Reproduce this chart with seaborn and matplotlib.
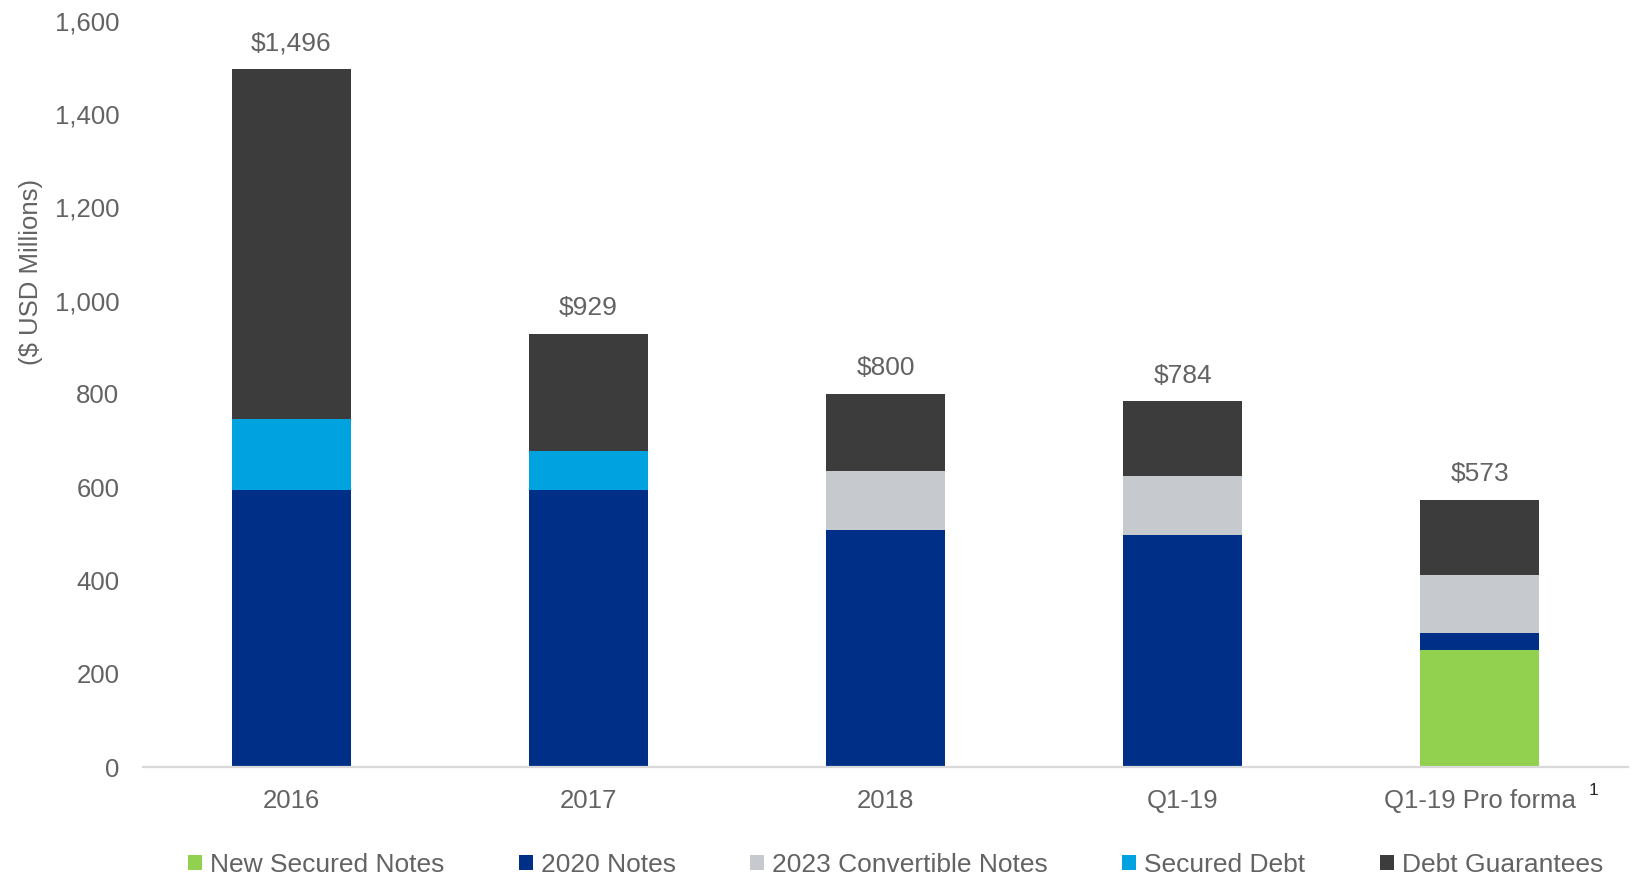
import matplotlib
matplotlib.use("Agg")
import matplotlib.pyplot as plt
import matplotlib.transforms as mtransforms
from matplotlib.patches import Patch
from matplotlib.ticker import FuncFormatter
import numpy as np
import pandas as pd
import seaborn as sns

# Debt components by period ($ USD millions)
categories = ["2016", "2017", "2018", "Q1-19", "Q1-19 Pro forma"]
new_secured_notes = [0, 0, 0, 0, 250]
notes_2020 = [593, 593, 509, 498, 37]
convertible_2023 = [0, 0, 125, 125, 125]
secured_debt = [154, 84, 0, 0, 0]
debt_guarantees = [749, 252, 166, 161, 161]

series_names = ["New Secured Notes", "2020 Notes", "2023 Convertible Notes",
                "Secured Debt", "Debt Guarantees"]
series_colors = ["#92d050", "#002f87", "#c6cace", "#00a3e0", "#3c3c3c"]

TEXT = "#636363"

sns.set_theme(style="white")
plt.rcParams["font.family"] = ["Liberation Sans", "DejaVu Sans"]

layers = np.array([new_secured_notes, notes_2020, convertible_2023,
                   secured_debt, debt_guarantees], dtype=float)
cumulative = np.cumsum(layers, axis=0)
totals = cumulative[-1]

fig = plt.figure(figsize=(16.4, 8.75), dpi=100)
ax = fig.add_axes([0.0872, 0.1234, 0.9055, 0.8529])

# Stacked bars: draw cumulative heights from the top layer down
for i in range(len(series_names) - 1, -1, -1):
    df = pd.DataFrame({"period": categories, "value": cumulative[i]})
    sns.barplot(data=df, x="period", y="value", order=categories,
                color=series_colors[i], saturation=1, width=0.4,
                linewidth=0, ax=ax)

# Total labels above each bar
for xi, tot in enumerate(totals):
    ax.annotate(f"${tot:,.0f}", xy=(xi, tot), xytext=(0, 18.5),
                textcoords="offset points", ha="center", va="center",
                fontsize=19, color=TEXT)

ax.set_xlim(-0.5, 4.5)
ax.set_ylim(0, 1600)
ax.set_yticks(np.arange(0, 1601, 200))
ax.yaxis.set_major_formatter(FuncFormatter(lambda v, p: f"{v:,.0f}"))
ax.tick_params(axis="both", length=0, labelsize=18.5, labelcolor=TEXT)
ax.tick_params(axis="x", pad=16)
ax.tick_params(axis="y", pad=17)

for side in ["top", "right", "left"]:
    ax.spines[side].set_visible(False)
ax.spines["bottom"].set_color("#d9d9d9")
ax.spines["bottom"].set_linewidth(1.6)

ax.set_xlabel("")
ax.set_ylabel("($ USD Millions)", fontsize=18.5, color=TEXT, va="center")
ax.yaxis.set_label_coords(-0.0754, 0.663)

# Footnote marker next to the pro forma label
trans = mtransforms.blended_transform_factory(ax.transData, ax.transAxes)
ax.text(4.385, -0.032, "1", transform=trans, ha="center", va="center",
        fontsize=12.5, color="#262626")

handles = [Patch(facecolor=c, edgecolor="none", label=n)
           for n, c in zip(series_names, series_colors)]
fig.legend(handles=handles, loc="center", bbox_to_anchor=(0.546, 0.0115),
           ncol=5, frameon=False, fontsize=19, labelcolor=TEXT,
           handlelength=0.53, handleheight=0.5, handletextpad=0.3,
           columnspacing=2.82, borderaxespad=0)

fig.savefig("out.png", dpi=100)
